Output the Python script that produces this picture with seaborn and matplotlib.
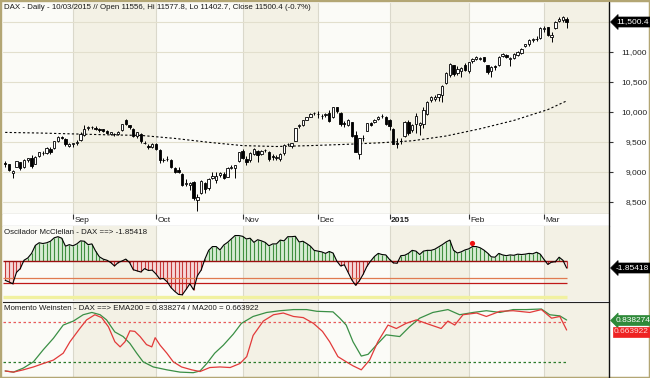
import matplotlib
matplotlib.use("Agg")
import matplotlib.pyplot as plt
from matplotlib.patches import Rectangle
from matplotlib.lines import Line2D
from matplotlib import font_manager
import seaborn as sns
import pandas as pd

# ---------------- data ----------------
opens = [9150, 9130, 8980, 9090, 9160, 9085, 9200, 9240, 9140, 9260, 9320, 9320, 9390, 9400, 9520, 9580, 9550, 9440,
         9460, 9490, 9540, 9620, 9730, 9750, 9740, 9720, 9710, 9690, 9640, 9630, 9640, 9700, 9860, 9780, 9720, 9600,
         9640, 9480, 9440, 9420,
         9460, 9370, 9200, 9220, 9200, 9060, 9040, 8960, 8800, 8790, 8840, 8540, 8650, 8810, 8740, 8900, 8860, 8950,
         8960, 8920, 9070, 9060, 9180,
         9350, 9210, 9200, 9300, 9350, 9300, 9370, 9340, 9260, 9240, 9220, 9310, 9460, 9430, 9520, 9760, 9790, 9870,
         9920, 9980,
         9970, 9940, 9950, 9990, 9920, 10080, 9990, 9820, 9780, 9830, 9620, 9300, 9560, 9690, 9820, 9830, 9880, 9930,
         9920,
         9870, 9720, 9480, 9510, 9600, 9840, 9700, 9800, 9780, 9800, 9970, 10200, 10220, 10250, 10290, 10480, 10610,
         10780, 10650, 10690, 10780,
         10690, 10850, 10880, 10880, 10910, 10780, 10680, 10760, 10780, 10930, 10950, 10880, 10900, 10950, 10980,
         11100, 11130, 11200, 11210, 11230,
         11390, 11410, 11250, 11400, 11520, 11530, 11556]
highs = [9186, 9140, 9030, 9185, 9175, 9210, 9240, 9290, 9260, 9340, 9350, 9410, 9420, 9520, 9600, 9600, 9560, 9480,
         9490, 9530, 9660, 9780, 9770, 9770, 9760, 9740, 9720, 9700, 9670, 9650, 9680, 9800, 9890, 9790, 9730, 9670,
         9650, 9520, 9460, 9480,
         9480, 9380, 9240, 9260, 9210, 9090, 9090, 8990, 8880, 8840, 8850, 8630, 8860, 8830, 8900, 9000, 9000, 9000,
         9000, 9090, 9110, 9120, 9330,
         9380, 9260, 9330, 9400, 9370, 9360, 9390, 9350, 9300, 9280, 9320, 9470, 9490, 9490, 9740, 9800, 9870, 9920,
         9980, 10000,
         10010, 9970, 9990, 10030, 10090, 10090, 10000, 9850, 9880, 9840, 9680, 9570, 9620, 9820, 9840, 9880, 9930,
         9960, 9930,
         9880, 9730, 9560, 9570, 9850, 9860, 9800, 9990, 9830, 10080, 10190, 10260, 10290, 10300, 10450, 10660, 10810,
         10790, 10760, 10750, 10810,
         10830, 10900, 10930, 10920, 10920, 10790, 10760, 10790, 10930, 10990, 10960, 10910, 10990, 11020, 11060,
         11140, 11220, 11230, 11260, 11410,
         11430, 11420, 11330, 11510, 11580, 11600, 11577.8]
lows = [9091, 9020, 8904, 9080, 9040, 9070, 9170, 9060, 9130, 9250, 9280, 9300, 9300, 9390, 9500, 9550, 9440, 9410,
        9420, 9450, 9520, 9600, 9700, 9720, 9700, 9660, 9660, 9640, 9610, 9600, 9620, 9690, 9790, 9720, 9580, 9570,
        9490, 9460, 9380, 9400,
        9360, 9150, 9170, 9190, 9070, 8990, 8990, 8760, 8770, 8700, 8540, 8355, 8630, 8650, 8700, 8880, 8810, 8920,
        8880, 8910, 9050, 8900, 9170,
        9220, 9120, 9170, 9280, 9160, 9280, 9330, 9190, 9200, 9200, 9180, 9280, 9430, 9400, 9520, 9730, 9760, 9860,
        9910, 9950,
        9900, 9880, 9910, 9830, 9900, 9990, 9770, 9750, 9760, 9590, 9330, 9220, 9510, 9680, 9770, 9820, 9870, 9900,
        9790,
        9700, 9460, 9400, 9460, 9590, 9620, 9660, 9650, 9620, 9740, 9950, 10170, 10180, 10190, 10170, 10470, 10590,
        10600, 10620, 10590, 10690,
        10650, 10820, 10860, 10860, 10840, 10630, 10590, 10700, 10760, 10920, 10900, 10770, 10880, 10940, 10970,
        11080, 11100, 11170, 11180, 11220,
        11330, 11260, 11170, 11380, 11500, 11500, 11402.7]
closes = [9130, 9039, 9010, 9180, 9069, 9199, 9226, 9092, 9245, 9334, 9315, 9400, 9339, 9510, 9588, 9569, 9462, 9470,
          9479, 9507, 9626, 9724, 9748, 9758, 9710, 9700, 9691, 9651, 9660, 9633, 9661, 9798, 9799, 9749, 9595, 9661,
          9510, 9490, 9422, 9474,
          9382, 9195, 9195, 9209, 9086, 9005, 9005, 8788, 8812, 8825, 8572, 8582, 8850, 8717, 8887, 8941, 8940, 8988,
          8902, 9068, 9083, 9115, 9326,
          9235, 9167, 9315, 9377, 9291, 9351, 9369, 9210, 9249, 9252, 9306, 9456, 9472, 9483, 9732, 9785, 9861, 9916,
          9974, 9980,
          9963, 9934, 9971, 9851, 10087, 10014, 9799, 9799, 9862, 9594, 9334, 9563, 9564, 9811, 9787, 9865, 9922, 9928,
          9806,
          9764, 9473, 9470, 9518, 9838, 9648, 9781, 9941, 9818, 10032, 10167, 10242, 10257, 10299, 10435, 10649, 10798,
          10628, 10710, 10739, 10694,
          10828, 10891, 10911, 10905, 10846, 10663, 10752, 10752, 10919, 10963, 10924, 10895, 10961, 11001, 11051,
          11130, 11206, 11211, 11210, 11401,
          11407, 11280, 11290, 11504, 11551, 11583, 11500.4]

ma200_idx = [0, 9, 18, 27, 36, 45, 54, 63, 72, 81, 90, 99, 108, 117, 126, 135, 144, 149]
ma200_vals = [9660, 9650, 9635, 9620, 9610, 9560, 9495, 9440, 9425, 9440, 9460, 9485, 9520, 9600, 9720, 9860,
              10040, 10185]

osc_vals = [-5.1, -5.5, -6.0, -3.0, -2.0, 0.2, 0.8, 2.0, 4.1, 4.8, 4.6, 4.8, 5.2, 6.1, 6.4, 6.0, 3.9, 4.3, 4.0, 4.5,
            5.3, 5.2, 4.3, 4.5, 2.6, 1.1, 0.5, 0.2, -0.4, -1.3, -0.4, 0.0, 0.5, -0.4, -2.3, -2.6, -2.9, -2.0, -2.5,
            -2.4, -3.4, -4.7, -4.6, -5.5, -7.0, -8.0, -8.8, -8.9, -7.5, -6.0, -7.6, -3.9, -2.4, 0.5, 2.8, 3.8, 3.8,
            2.9, 4.2, 4.9, 5.8, 6.7, 6.7, 6.5, 5.8, 6.0, 4.9, 5.6, 5.3, 4.9, 4.0, 4.5, 4.5, 5.5, 5.3, 6.4, 6.4, 6.5,
            5.0, 5.2, 4.6, 3.9, 2.8, 2.6, 2.4, 2.0, 2.5, 2.1, 0.0, -1.3, -1.0, -3.0, -5.0, -6.4, -5.2, -3.5, -1.4,
            0.0, 1.2, 2.0, 1.7, 1.6, 0.4, -0.5, -0.6, 1.4, 1.5, 2.0, 2.8, 2.6, 1.7, 2.6, 2.8, 2.8, 3.1, 3.7, 4.3,
            5.0, 5.5, 2.8, 2.1, 2.4, 2.9, 3.2, 3.8, 3.8, 3.5, 2.9, 2.1, 1.1, 1.0, 2.0, 1.6, 1.4, 1.6, 1.5, 1.8, 1.7,
            1.8, 2.0, 1.9, 2.3, 1.8, 0.4, -0.9, -0.3, -0.2, 1.0, 0.2, -1.85418]
osc_levels = [-4.5, -5.8, -9.5]
osc_dot_idx = [124]
osc_dot_val = [4.7]

ema_idx = [0, 2.2, 4.8, 7.5, 10.1, 12.8, 15.4, 18.1, 20.7, 23.0, 25.2, 26.9, 29.1, 31.3, 33.1, 34.9, 36.6, 39.3,
           42.9, 46.4, 49.9, 51.7, 53.5, 55.6, 57.9, 60.5, 62.7, 65.8, 69.4, 72.9, 76.5, 80.0, 82.7, 87.0, 88.8,
           90.5, 92.3, 94.5, 96.3, 98.5, 101.1, 104.7, 107.3, 110.0, 113.5, 117.5, 120.6, 124.2, 127.7, 131.3,
           134.8, 138.3, 142.3, 144.5, 147.2, 149]
ema_vals = [-0.05, -0.07, 0.0, 0.11, 0.32, 0.52, 0.75, 0.82, 0.93, 0.97, 0.93, 0.84, 0.63, 0.55, 0.43, 0.26, 0.11,
            0.02, -0.03, -0.07, -0.08, -0.05, 0.08, 0.26, 0.40, 0.59, 0.78, 0.90, 0.97, 1.0, 1.02, 1.02, 0.99, 0.98,
            0.87, 0.75, 0.46, 0.21, 0.24, 0.40, 0.58, 0.55, 0.72, 0.87, 0.97, 1.02, 0.93, 0.97, 1.0, 0.97, 1.02,
            1.02, 1.03, 0.93, 0.91, 0.838274]
ma_idx = [0, 2.2, 4.8, 7.5, 10.1, 12.8, 15.4, 17.2, 19.8, 21.6, 23.8, 25.6, 27.4, 29.1, 30.5, 31.8, 33.1, 34.4,
          35.8, 37.5, 38.9, 39.8, 41.1, 42.9, 44.6, 46.8, 49.5, 51.7, 54.3, 57.0, 59.7, 62.3, 64.1, 65.8, 68.5,
          71.2, 73.8, 76.5, 79.1, 81.8, 84.2, 86.1, 88.3, 90.5, 92.3, 94.5, 96.7, 98.9, 101.6, 103.8, 106.4, 109.1,
          111.7, 115.7, 117.5, 119.3, 121.5, 125.1, 127.7, 131.3, 134.8, 139.2, 142.3, 145.0, 147.2, 149]
ma_vals = [-0.05, -0.07, -0.03, 0.02, 0.08, 0.14, 0.26, 0.46, 0.69, 0.84, 0.93, 0.88, 0.72, 0.46, 0.37, 0.46, 0.65,
           0.64, 0.55, 0.41, 0.37, 0.53, 0.40, 0.26, 0.11, 0.02, -0.03, -0.06, 0.01, 0.02, 0.01, 0.08, 0.2, 0.57,
           0.82, 0.93, 0.96, 0.90, 0.88, 0.78, 0.64, 0.46, 0.20, 0.11, 0.04, -0.03, 0.14, 0.46, 0.75, 0.69, 0.78,
           0.84, 0.78, 0.69, 0.82, 0.75, 0.93, 0.96, 0.90, 0.99, 1.0, 0.97, 1.02, 0.87, 0.90, 0.663922]
mom_levels = [0.8, 0.1]

month_start_idx = [18, 40, 63, 83, 102, 123, 143]
month_labels = ["Sep", "Oct", "Nov", "Dec", "2015", "Feb", "Mar"]
price_ticks = [8500, 9000, 9500, 10000, 10500, 11000]
grid_levels = [8500, 9000, 9500, 10000, 10500, 11000, 11500]

title_main = "DAX - Daily - 10/03/2015 // Open 11556, Hi 11577.8, Lo 11402.7, Close 11500.4 (-0.7%)"
title_osc = "Oscilador McClellan - DAX ==> -1.85418"
title_mom = "Momento Weinsten - DAX ==> EMA200 = 0.838274 / MA200 = 0.663922"

# ---------------- style ----------------
sns.set_style("white")
names = {f.name for f in font_manager.fontManager.ttflist}
narrow = 'Liberation Sans Narrow' in names
if narrow:
    plt.rcParams['font.family'] = ['Liberation Sans Narrow', 'DejaVu Sans']
    FS_T, FS_L = 6.9, 6.9
else:
    plt.rcParams['font.family'] = ['Liberation Sans', 'DejaVu Sans']
    FS_T, FS_L = 5.7, 6.0

W, H = 650, 378
fig = plt.figure(figsize=(6.5, 3.78), dpi=100)
fig.patch.set_facecolor('white')


def rect(x0, y0, x1, y1):
    return [x0 / W, 1 - y1 / H, (x1 - x0) / W, (y1 - y0) / H]


XLO, XHI = -0.58, 160.24
LIGHT, BEIGE, GRIDC = '#fbfbf7', '#f3f1e5', '#e2dfcd'

ax_p = fig.add_axes(rect(3, 3, 609, 214))
ax_s = fig.add_axes(rect(3, 214, 609, 226))
ax_o = fig.add_axes(rect(3, 226, 609, 301))
ax_m = fig.add_axes(rect(3, 302, 609, 377))

for ax in (ax_p, ax_o, ax_m):
    bounds = [XLO] + month_start_idx + [XHI]
    for k in range(len(bounds) - 1):
        ax.axvspan(bounds[k], bounds[k + 1], color=LIGHT if k % 2 == 0 else BEIGE, lw=0, zorder=0)
    for m in month_start_idx:
        ax.axvline(m, color='#dad8cb', lw=0.8, zorder=0.5)

for ax in (ax_p, ax_s, ax_o, ax_m):
    ax.set_xlim(XLO, XHI)
    for s in ax.spines.values():
        s.set_visible(False)

# ---------------- price panel ----------------
df = pd.DataFrame({'i': range(len(closes)), 'o': opens, 'h': highs, 'l': lows, 'c': closes})
up = df.c >= df.o
for g in grid_levels:
    ax_p.axhline(g, color=GRIDC, lw=0.8, zorder=0.6)
ax_p.vlines(df.i, df.l, df.h, color='black', lw=0.7, zorder=2)
ax_p.bar(df.i[up], (df.c - df.o)[up].clip(lower=6), bottom=df.o[up], width=0.62,
         facecolor='white', edgecolor='black', lw=0.6, zorder=3)
ax_p.bar(df.i[~up], (df.o - df.c)[~up].clip(lower=6), bottom=df.c[~up], width=0.62,
         facecolor='black', edgecolor='black', lw=0.6, zorder=3)
sns.lineplot(x=ma200_idx, y=ma200_vals, ax=ax_p, color='black', lw=0.8,
             linestyle=(0, (2, 2)), estimator=None, sort=False, zorder=1.5)
ax_p.set_ylim(8300, 11817)
ax_p.set_xticks([])
ax_p.yaxis.tick_right()
ax_p.set_yticks(price_ticks)
ax_p.set_yticklabels([f"{v:,}" for v in price_ticks])
ax_p.tick_params(axis='y', direction='out', length=3, width=0.8, colors='#333333',
                 labelsize=FS_L, labelcolor='#222222', pad=24.5)
for lbl in ax_p.get_yticklabels():
    lbl.set_horizontalalignment('right')
ax_p.spines['bottom'].set_visible(True)
ax_p.spines['bottom'].set_color('#333333')
ax_p.set_xlabel('')
ax_p.set_ylabel('')

# ---------------- month strip ----------------
ax_s.set_facecolor('white')
ax_s.set_ylim(0, 1)
ax_s.set_xticks([])
ax_s.set_yticks([])
ax_s.vlines(month_start_idx, 0.62, 1.0, color='#333333', lw=0.8)
for m, lab in zip(month_start_idx, month_labels):
    ax_s.text(m + 0.4, 0.42, lab, fontsize=FS_L, va='center', ha='left', color='#222222',
              fontweight='bold' if lab == '2015' else 'normal')
ax_s.spines['bottom'].set_visible(True)
ax_s.spines['bottom'].set_color('#333333')

# ---------------- McClellan oscillator ----------------
idx = list(range(len(osc_vals)))
odf = pd.DataFrame({'i': idx, 'v': osc_vals})
pos = odf[odf.v > 0]
neg = odf[odf.v <= 0]
ax_o.fill_between(odf.i, 0, odf.v, where=odf.v > 0, interpolate=True, color='#d6ebd3', lw=0, zorder=1)
ax_o.fill_between(odf.i, 0, odf.v, where=odf.v <= 0, interpolate=True, color='#f6d8d8', lw=0, zorder=1)
ax_o.vlines(pos.i, 0, pos.v, color='#3f8f3f', lw=0.8, zorder=2)
ax_o.vlines(neg.i, 0, neg.v, color='#c83a3a', lw=0.8, zorder=2)
last = len(osc_vals) - 1 + 0.2
ax_o.hlines([0], XLO, last, colors='#9a1010', lw=1.0, zorder=3)
ax_o.hlines([osc_levels[0]], XLO, last, colors='#e07a50', lw=0.9, zorder=3)
ax_o.hlines([osc_levels[1]], XLO, last, colors='#c01818', lw=0.9, zorder=3)
ax_o.hlines([osc_levels[2]], XLO, last, colors='#f1f1a0', lw=2.4, zorder=3)
sns.lineplot(x=odf.i, y=odf.v, ax=ax_o, color='black', lw=0.8, estimator=None, sort=False, zorder=4)
ax_o.scatter(osc_dot_idx, osc_dot_val, s=14, color='#ee1111', zorder=5, lw=0)
ax_o.set_ylim(-10.53, 9.21)
ax_o.set_xticks([])
ax_o.set_yticks([])
ax_o.set_xlabel('')
ax_o.set_ylabel('')

# ---------------- Momentum panel ----------------
ax_m.hlines([mom_levels[0]], XLO, last, colors='#e85a5a', lw=0.9, linestyles=(0, (2, 2)), zorder=2)
ax_m.hlines([mom_levels[1]], XLO, last, colors='#2b7a2b', lw=0.9, linestyles=(0, (2, 2)), zorder=2)
sns.lineplot(x=ema_idx, y=ema_vals, ax=ax_m, color='#3a8f45', lw=0.9, estimator=None, sort=False, zorder=3)
sns.lineplot(x=ma_idx, y=ma_vals, ax=ax_m, color='#e23a3a', lw=0.9, estimator=None, sort=False, zorder=4)
ax_m.set_ylim(-0.155, 1.152)
ax_m.set_xticks([])
ax_m.set_yticks([])
ax_m.set_xlabel('')
ax_m.set_ylabel('')
ax_m.spines['top'].set_visible(True)
ax_m.spines['top'].set_color('#222222')

# ---------------- titles & tags ----------------
tkw = dict(fontsize=FS_T, color='#1a1a1a', va='center', ha='left')
fig.text(4 / W, 1 - 7.5 / H, title_main, **tkw)
fig.text(4 / W, 1 - 233 / H, title_osc, **tkw)
fig.text(4 / W, 1 - 308 / H, title_mom, **tkw)

tag = dict(fontsize=FS_L, va='center', ha='left')
fig.text(616 / W, 1 - 22 / H, "11,500.4", color='white',
         bbox=dict(boxstyle='larrow,pad=0.18', fc='black', ec='black', lw=0.5), **tag)
fig.text(616 / W, 1 - 268 / H, "-1.85418", color='white',
         bbox=dict(boxstyle='larrow,pad=0.18', fc='black', ec='black', lw=0.5), **tag)
fig.text(616 / W, 1 - 320.5 / H, "0.838274", color='white',
         bbox=dict(boxstyle='larrow,pad=0.18', fc='#2f8a3a', ec='#2f8a3a', lw=0.5), **tag)
fig.text(614 / W, 1 - 331.5 / H, "0.663922", color='#ffd6d6',
         bbox=dict(boxstyle='square,pad=0.18', fc='#ee2222', ec='#ee2222', lw=0.5), **tag)

# ---------------- frame lines ----------------
fig.add_artist(Line2D([609 / W, 609 / W], [0, 1 - 2 / H], transform=fig.transFigure, color='#111111', lw=1.0))
fig.add_artist(Rectangle((0, 0), 1, 1, transform=fig.transFigure, fill=False, edgecolor='#b3a674', lw=2.5))

fig.savefig("out.png", dpi=100)
